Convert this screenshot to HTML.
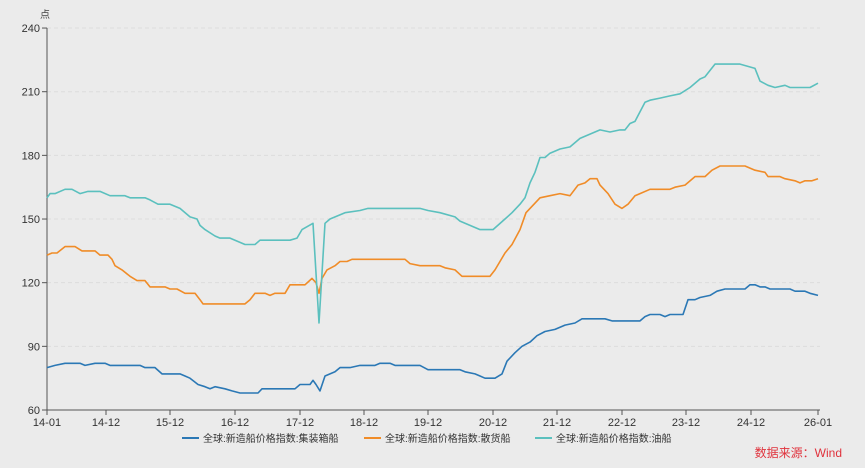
<!DOCTYPE html>
<html><head><meta charset="utf-8"><style>
html,body{margin:0;padding:0;background:#ebebeb;}
svg{display:block;font-family:"Liberation Sans","Noto Sans CJK SC",sans-serif;}
</style></head><body>
<svg id="s" width="865" height="468" viewBox="0 0 865 468" xmlns="http://www.w3.org/2000/svg">
<rect width="865" height="468" fill="#ebebeb"/>
<g id="grid"></g>
<line x1="47" y1="28" x2="47" y2="410" stroke="#555" stroke-width="1"/>
<line x1="47" y1="410" x2="820" y2="410" stroke="#555" stroke-width="1"/>
<text x="40" y="18" font-size="10" fill="#444">点</text>
<g id="ylab" font-size="11" fill="#333" text-anchor="end"></g>
<g id="xlab" font-size="11" fill="#333" text-anchor="middle"></g>
<g id="lines" fill="none" stroke-width="1.6" stroke-linejoin="round"></g>
<g font-size="10" fill="#333">
<line x1="182" y1="438" x2="199" y2="438" stroke="#2b78b5" stroke-width="2"/>
<text x="203" y="442">全球:新造船价格指数:集装箱船</text>
<line x1="364" y1="438" x2="381" y2="438" stroke="#f08c28" stroke-width="2"/>
<text x="385" y="442">全球:新造船价格指数:散货船</text>
<line x1="535" y1="438" x2="552" y2="438" stroke="#5bc0be" stroke-width="2"/>
<text x="556" y="442">全球:新造船价格指数:油船</text>
</g>
<text x="842" y="457" font-size="12" fill="#e0323c" text-anchor="end">数据来源：Wind</text>
</svg>
<script>
var NS="http://www.w3.org/2000/svg";
function Y(v){return 410-(v-60)*2.122;}
function el(p,t,a,txt){var e=document.createElementNS(NS,t);for(var k in a)e.setAttribute(k,a[k]);if(txt)e.textContent=txt;document.getElementById(p).appendChild(e);}
[60,90,120,150,180,210,240].forEach(function(v){var y=Y(v);
 if(v>60)el("grid","line",{x1:47,x2:820,y1:y,y2:y,stroke:"#dcdcdc","stroke-dasharray":"4,3"});
 el("ylab","line",{x1:42,x2:47,y1:y,y2:y,stroke:"#555"});
 el("ylab","text",{x:40,y:y+4},String(v));});
var xs=[[47,"14-01"],[106,"14-12"],[170,"15-12"],[235,"16-12"],[300,"17-12"],[364,"18-12"],[428,"19-12"],[493,"20-12"],[557,"21-12"],[622,"22-12"],[686,"23-12"],[751,"24-12"],[818,"26-01"]];
xs.forEach(function(a){el("xlab","line",{x1:a[0],x2:a[0],y1:410,y2:415,stroke:"#555"});el("xlab","text",{x:a[0],y:426},a[1]);});
var tk=[47,160,50,162,55,162,65,164,72,164,80,162,88,163,100,163,110,161,125,161,130,160,145,160,150,159,158,157,170,157,180,155,190,151,197,150,200,147,205,145,215,142,220,141,230,141,240,139,245,138,255,138,260,140,290,140,297,141,302,145,313,148,319,101,325,148,330,150,345,153,360,154,368,155,420,155,428,154,440,153,455,151,460,149,480,145,493,145,505,150,512,153,520,157,525,160,530,167,535,172,540,179,545,179,550,181,560,183,570,184,580,188,590,190,600,192,610,191,620,192,625,192,630,195,635,196,645,205,650,206,660,207,670,208,680,209,690,212,700,216,705,217,715,223,740,223,755,221,760,215,768,213,775,212,785,213,790,212,810,212,818,214];
var bk=[47,133,52,134,57,134,65,137,75,137,82,135,95,135,100,133,108,133,112,131,115,128,122,126,130,123,137,121,145,121,150,118,165,118,170,117,177,117,185,115,195,115,200,112,203,110,245,110,250,112,255,115,265,115,270,114,275,115,285,115,290,119,305,119,312,122,316,120,319,115,322,122,327,126,335,128,340,130,347,130,352,131,405,131,410,129,420,128,440,128,445,127,455,126,462,123,470,123,490,123,495,126,505,134,512,138,520,145,526,153,532,156,540,160,550,161,560,162,570,161,578,166,585,167,590,169,597,169,600,166,608,162,615,157,622,155,628,157,635,161,640,162,650,164,670,164,675,165,685,166,695,170,705,170,712,173,720,175,745,175,755,173,765,172,768,170,780,170,785,169,795,168,800,167,805,168,812,168,818,169];
var ct=[47,80,55,81,65,82,80,82,85,81,95,82,105,82,110,81,140,81,145,80,155,80,162,77,180,77,185,76,190,75,198,72,205,71,210,70,215,71,225,70,232,69,240,68,258,68,262,70,295,70,300,72,310,72,313,74,316,72,320,69,325,76,335,78,340,80,350,80,360,81,375,81,380,82,390,82,395,81,420,81,428,79,460,79,465,78,475,77,480,76,485,75,495,75,502,77,507,83,515,87,522,90,530,92,537,95,545,97,555,98,565,100,575,101,582,103,605,103,612,102,640,102,645,104,650,105,660,105,665,104,670,105,683,105,688,112,695,112,700,113,710,114,717,116,725,117,745,117,750,119,755,119,760,118,765,118,770,117,790,117,795,116,805,116,810,115,818,114];
function pts(a){var s=[];for(var i=0;i<a.length;i+=2)s.push(a[i]+","+Y(a[i+1]).toFixed(1));return s.join(" ");}
el("lines","polyline",{points:pts(ct),stroke:"#2b78b5"});
el("lines","polyline",{points:pts(bk),stroke:"#f08c28"});
el("lines","polyline",{points:pts(tk),stroke:"#5bc0be"});
</script>
</body></html>
